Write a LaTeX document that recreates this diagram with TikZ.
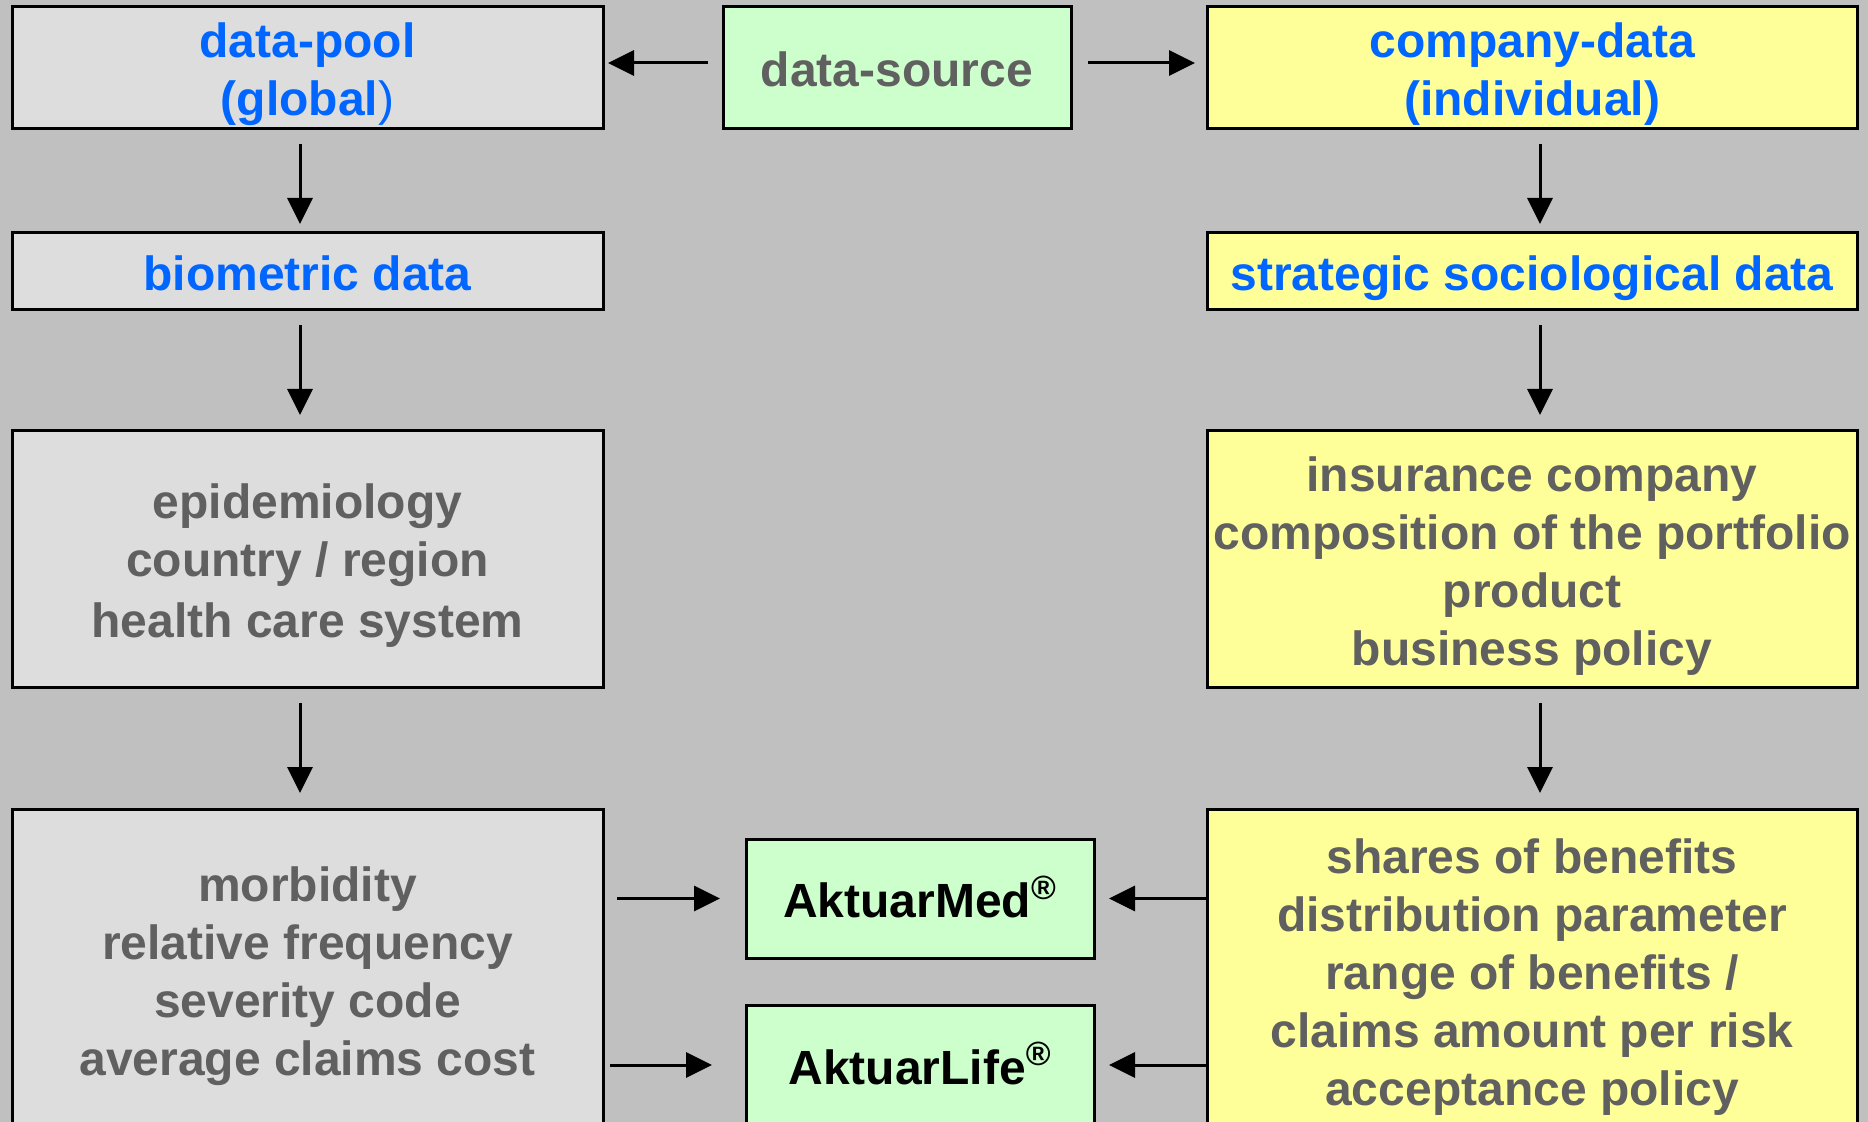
\documentclass[tikz,border=0pt]{standalone}
\usepackage{fontspec}
\setmainfont{Liberation Sans}
\usepackage{xcolor}
\definecolor{cBack}   {HTML}{C0C0C0}
\definecolor{cGrey}   {HTML}{DDDDDD}
\definecolor{cYellow} {HTML}{FFFF99}
\definecolor{cGreen}  {HTML}{CCFFCC}
\definecolor{cBlueTxt}{HTML}{0066FF}
\definecolor{cGreyTxt}{HTML}{606060}
\usetikzlibrary{arrows.meta, positioning}
\newcommand{\ls}{\rule[-5pt]{0pt}{29pt}}
\tikzset{
  box/.style  = {rectangle, draw=black, line width=1.5pt,
                 inner sep=0pt, outer sep=0pt, align=center,
                 minimum width=#1, text=cGreyTxt,
                 font=\fontsize{24}{29}\selectfont\bfseries},
  box/.default = 295.5pt,
  wide/.style = {box=325pt, fill=cYellow},
  prog/.style = {box=174pt, fill=cGreen},
  arr/.style  = {-{Triangle[length=13pt, width=12.5pt]}, line width=1.5pt},
}

\begin{document}
\begin{tikzpicture}[x=0.5pt, y=-0.5pt]

  \fill[cBack] (0,0) rectangle (1868,1122);
  \useasboundingbox (0,0) rectangle (1868,1122);

  % top row
  \node[box, fill=cGrey, minimum height=61pt, text=cBlueTxt]
        (pool) at (307.5,68) {\ls data-pool\\(global{\mdseries)}\ls};
  \node[prog, minimum height=61pt] (source) at (897,68) {\ls data-source\ls};
  \node[wide, minimum height=61pt, text=cBlueTxt]
        (company) at (1532,68) {\ls company-data\\(individual)\ls};

  % left column
  \node[box, fill=cGrey, minimum height=38.5pt, text=cBlueTxt]
        (bio) at (307.5,271.5) {\ls biometric data\ls};
  \node[box, fill=cGrey, minimum height=128pt] (epi) at (307.5,559)
        {\ls epidemiology\\country / region\\health care system\ls};
  \node[box, fill=cGrey, minimum height=161pt] (morb) at (307.5,970)
        {\ls morbidity\\relative frequency\\severity code\\average claims cost\ls};

  % right column
  \node[wide, minimum height=38.5pt, text=cBlueTxt]
        (strat) at (1532,271.5) {\ls strategic sociological data\ls};
  \node[wide, minimum height=128pt] (ins) at (1532,559)
        {\ls insurance company\\composition of the portfolio\\product\\business policy\ls};
  \node[wide, minimum height=161pt] (shares) at (1532,970)
        {\ls shares of benefits\\distribution parameter\\range of benefits /\\claims amount per risk\\acceptance policy\ls};

  % products
  \node[prog, minimum height=59.5pt, text=black] (med) at (920,898.5)
        {\ls AktuarMed\textsuperscript{\textregistered}\ls};
  \node[prog, minimum height=60pt, text=black] (life) at (920,1065)
        {\ls AktuarLife\textsuperscript{\textregistered}\ls};

  \draw[arr, shorten <=7.5pt, shorten >=2.5pt]
        ([yshift=2.5pt]source.west) -- ([yshift=2.5pt]pool.east);
  \draw[arr, shorten <=8.5pt, shorten >=6pt]
        ([yshift=2.5pt]source.east) -- ([yshift=2.5pt]company.west);

  \draw[arr, shorten <=7.5pt, shorten >=4.5pt]
        ([xshift=-3.75pt]pool.south) -- ([xshift=-3.75pt]bio.north);
  \draw[arr, shorten <=7.5pt, shorten >=8pt]
        ([xshift=-3.75pt]bio.south)  -- ([xshift=-3.75pt]epi.north);
  \draw[arr, shorten <=8pt,   shorten >=8pt]
        ([xshift=-3.75pt]epi.south)  -- ([xshift=-3.75pt]morb.north);
  \draw[arr, shorten <=7.5pt, shorten >=4.5pt]
        ([xshift=4pt]company.south) -- ([xshift=4pt]strat.north);
  \draw[arr, shorten <=7.5pt, shorten >=8pt]
        ([xshift=4pt]strat.south)   -- ([xshift=4pt]ins.north);
  \draw[arr, shorten <=8pt,   shorten >=8pt]
        ([xshift=4pt]ins.south)     -- ([xshift=4pt]shares.north);

  \draw[arr, shorten <=7pt,   shorten >=13pt]  (morb.east |- med)  -- (med);
  \draw[arr, shorten <=3.5pt, shorten >=17pt]  (morb.east |- life) -- (life);
  \draw[arr, shorten >=7.5pt] (shares.west |- med)  -- (med);
  \draw[arr, shorten >=7.5pt] (shares.west |- life) -- (life);

\end{tikzpicture}
\end{document}
